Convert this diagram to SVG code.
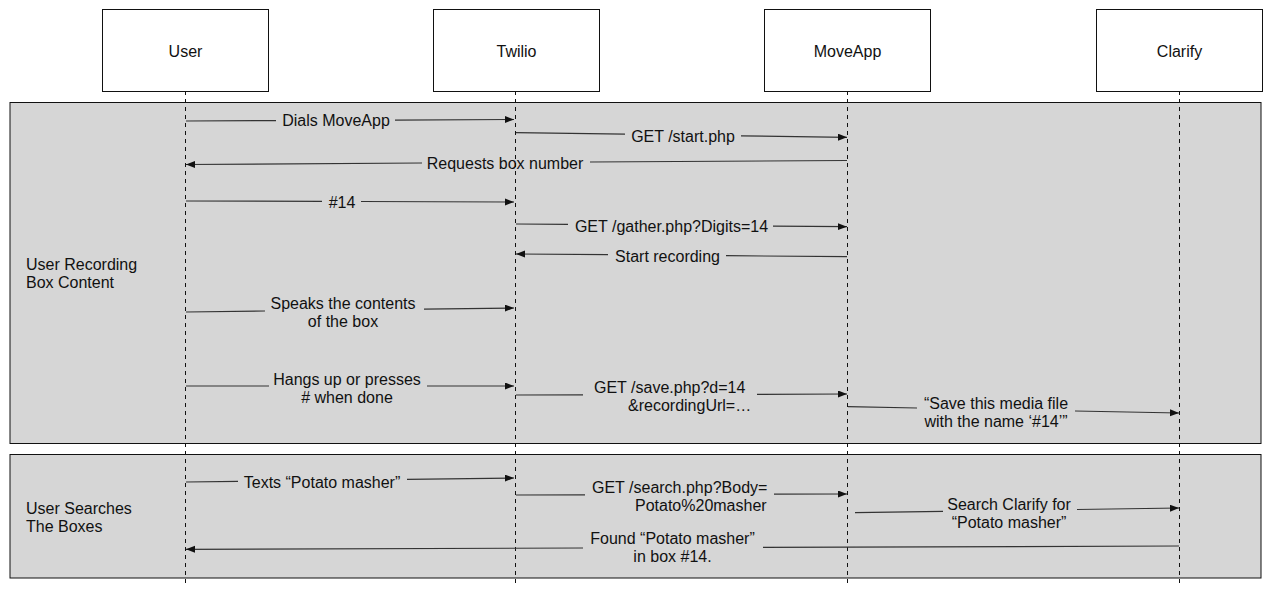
<svg xmlns="http://www.w3.org/2000/svg" width="1280" height="612" viewBox="0 0 1280 612">
<defs>
<marker id="ah" markerUnits="userSpaceOnUse" markerWidth="10" markerHeight="8" refX="9" refY="3.5" orient="auto">
<path d="M0,0 L9,3.5 L0,7 z" fill="#111"/>
</marker>
<style>
text{font-family:"Liberation Sans",Arial,Helvetica,sans-serif;font-size:16px;fill:#111}
.m{text-anchor:middle}
.box{fill:#fff;stroke:#111;stroke-width:1}
.frame{fill:#d6d6d6;stroke:#111;stroke-width:1}
.life{stroke:#111;stroke-width:1;stroke-dasharray:4 4;fill:none}
.msg{stroke:#333;stroke-width:1.2;fill:none}
.arr{stroke:#333;stroke-width:1.2;fill:none;marker-end:url(#ah)}
</style>
</defs>
<rect width="1280" height="612" fill="#fff"/>
<g id="frames">
<g id="frame-recording">
<rect class="frame" x="10" y="102.5" width="1251" height="341"/>
<text x="26" y="270">User Recording</text>
<text x="26" y="288">Box Content</text>
</g>
<g id="frame-search">
<rect class="frame" x="10" y="454.5" width="1251" height="123.5"/>
<text x="26" y="514">User Searches</text>
<text x="26" y="532">The Boxes</text>
</g>
</g>
<g id="lifelines">
<line class="life" x1="185.5" y1="91" x2="185.5" y2="584"/>
<line class="life" x1="515.5" y1="91" x2="515.5" y2="584"/>
<line class="life" x1="847.5" y1="91" x2="847.5" y2="584"/>
<line class="life" x1="1179.5" y1="91" x2="1179.5" y2="584"/>
</g>
<g id="user"><rect class="box" x="102.5" y="9.5" width="166" height="82"/><text class="m" x="185.5" y="57">User</text></g>
<g id="twilio"><rect class="box" x="433.5" y="9.5" width="166" height="82"/><text class="m" x="516.5" y="57">Twilio</text></g>
<g id="moveapp"><rect class="box" x="764.5" y="9.5" width="166" height="82"/><text class="m" x="847.5" y="57">MoveApp</text></g>
<g id="clarify"><rect class="box" x="1096.5" y="9.5" width="166" height="82"/><text class="m" x="1179.5" y="57">Clarify</text></g>
<g id="connectors">
<g id="m1"><path class="msg" d="M186,121 L276,120.6"/><path class="arr" d="M395,120.1 L514,119.5"/><text class="m" x="336" y="125.5">Dials MoveApp</text></g>
<g id="m2"><path class="msg" d="M516,132.7 L625,134.2"/><path class="arr" d="M741,135.8 L847,137.3"/><text class="m" x="683" y="142">GET /start.php</text></g>
<g id="m3"><path class="msg" d="M847,160.5 L590,162"/><path class="arr" d="M422,163 L186,164.5"/><text class="m" x="505" y="169">Requests box number</text></g>
<g id="m4"><path class="msg" d="M186,201 L322,201.4"/><path class="arr" d="M361,201.5 L514,202"/><text class="m" x="342" y="207.5">#14</text></g>
<g id="m5"><path class="msg" d="M516,224 L568,224.4"/><path class="arr" d="M773,226.1 L847,226.7"/><text class="m" x="671.5" y="232">GET /gather.php?Digits=14</text></g>
<g id="m6"><path class="msg" d="M847,256.7 L726,255.7"/><path class="arr" d="M608,254.7 L516,254"/><text class="m" x="667.5" y="262">Start recording</text></g>
<g id="m7"><path class="msg" d="M186,312 L265,311"/><path class="arr" d="M424,309.1 L514,308"/><text class="m" x="343" y="308.5">Speaks the contents</text><text class="m" x="343" y="326.5">of the box</text></g>
<g id="m8"><path class="msg" d="M186,386 L269,386"/><path class="arr" d="M427,386 L514,386"/><text class="m" x="347" y="385">Hangs up or presses</text><text class="m" x="347" y="403"># when done</text></g>
<g id="m9"><path class="msg" d="M516,395 L583,394.8"/><path class="arr" d="M757,394.3 L847,394"/><text x="594" y="393">GET /save.php?d=14</text><text x="628" y="411">&amp;recordingUrl=…</text></g>
<g id="m10"><path class="msg" d="M848,406.7 L917,408"/><path class="arr" d="M1075,411 L1179,413"/><text class="m" x="996" y="408.5">“Save this media file</text><text class="m" x="996" y="426.5">with the name ‘#14’”</text></g>
<g id="m11"><path class="msg" d="M186,482 L238,481.3"/><path class="arr" d="M407,479.3 L514,478"/><text class="m" x="322" y="487.5">Texts “Potato masher”</text></g>
<g id="m12"><path class="msg" d="M516,495 L585,494.8"/><path class="arr" d="M774,494.2 L847,494"/><text x="592" y="492.5">GET /search.php?Body=</text><text x="635" y="510.5">Potato%20masher</text></g>
<g id="m13"><path class="msg" d="M855,512.7 L943,511.4"/><path class="arr" d="M1077,509.5 L1179,508"/><text class="m" x="1009" y="509.5">Search Clarify for</text><text class="m" x="1009" y="527.5">“Potato masher”</text></g>
<g id="m14"><path class="msg" d="M1179,546 L763,547.4"/><path class="arr" d="M583,548 L186,549.3"/><text class="m" x="672.5" y="543.5">Found “Potato masher”</text><text class="m" x="672.5" y="562">in box #14.</text></g>
</g>
</svg>
